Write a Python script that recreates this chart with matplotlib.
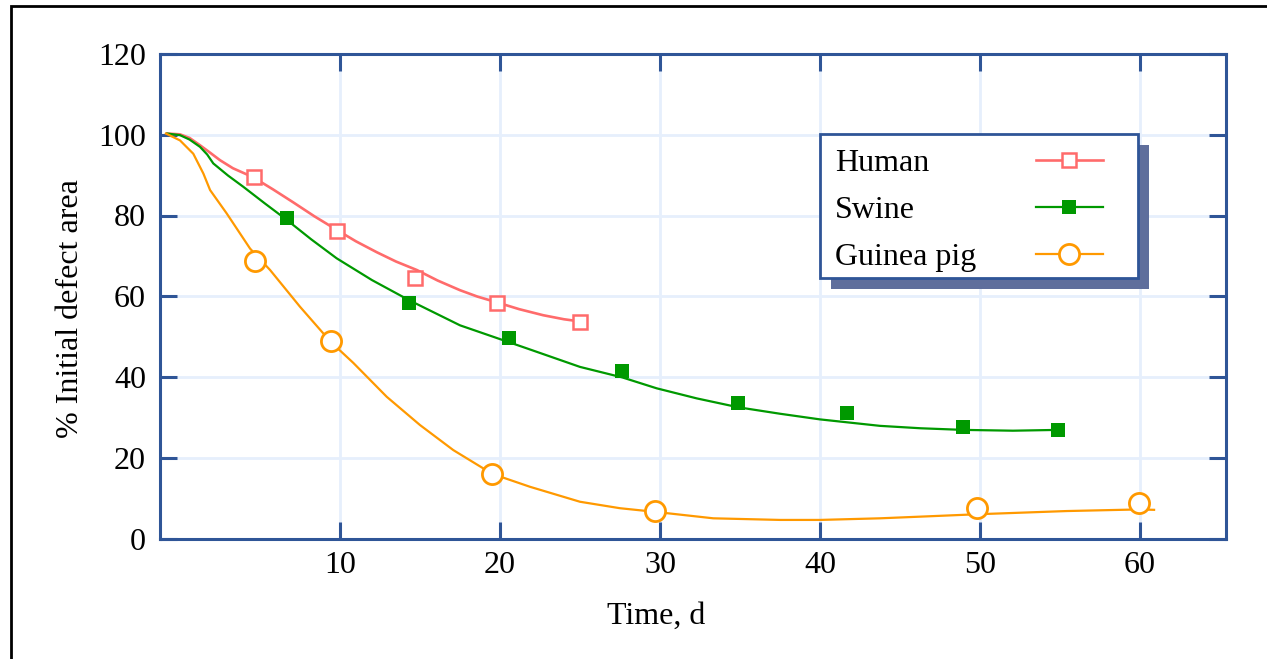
import matplotlib

matplotlib.use("Agg")
import matplotlib.pyplot as plt
from matplotlib.patches import Rectangle
from matplotlib.transforms import IdentityTransform

plt.rcParams["font.family"] = ["Liberation Serif", "DejaVu Serif"]

# measured points (days, % of initial defect area)
human_t = [4.64, 9.79, 14.71, 19.81, 25.0]
human_y = [89.6, 76.1, 64.4, 58.4, 53.7]
swine_t = [6.71, 14.33, 20.58, 27.64, 34.89, 41.71, 48.96, 54.89]
swine_y = [79.5, 58.4, 49.6, 41.4, 33.5, 31.0, 27.5, 26.8]
gpig_t = [4.69, 9.42, 19.5, 29.69, 49.79, 59.96]
gpig_y = [68.8, 49.0, 16.0, 6.9, 7.6, 8.9]

# fitted curves
human_fit_t = [-0.8, 0.0, 0.6, 1.25, 1.9, 2.5, 3.31, 4.56, 5.8, 7.06, 8.4, 9.81, 11.0, 12.3,
               13.5, 14.8, 16.1, 17.5, 18.6, 19.8, 21.2, 22.7, 24.0, 25.3]
human_fit_y = [100.3, 100.1, 99.2, 97.4, 95.5, 93.7, 91.7, 89.5, 86.5, 83.3, 79.8, 76.4, 73.6, 70.9,
               68.6, 66.5, 63.9, 61.5, 59.9, 58.5, 56.8, 55.3, 54.3, 53.6]
swine_fit_t = [-0.8, 0.0, 0.6, 1.25, 1.7, 2.08, 3.0, 3.96, 5.3, 6.71, 8.2, 9.79, 12.0, 14.33,
               17.5, 21.67, 25.0, 27.64, 29.79, 32.3, 34.89, 37.5, 40.0, 43.75, 46.3,
               48.96, 52.06, 54.89]
swine_fit_y = [100.3, 99.9, 98.8, 97.0, 95.1, 92.9, 89.9, 87.1, 83.0, 78.8, 74.1, 69.4, 64.0, 59.0,
               52.8, 47.1, 42.5, 39.9, 37.2, 34.7, 32.5, 30.9, 29.5, 27.9, 27.3,
               26.9, 26.7, 26.9]
gpig_fit_t = [-0.88, 0.0, 0.83, 1.46, 1.88, 2.92, 4.38, 5.63, 7.5, 9.42, 10.83, 12.92, 15.0,
              17.08, 19.52, 21.88, 25.0, 27.5, 29.69, 33.33, 37.5, 40.0, 43.75, 46.8, 49.79,
              52.6, 55.42, 59.96, 60.88]
gpig_fit_y = [100.3, 98.6, 95.3, 90.4, 86.3, 80.5, 71.8, 66.5, 57.4, 48.7, 43.5, 35.1, 28.1,
              21.9, 16.0, 12.8, 9.1, 7.5, 6.6, 5.0, 4.6, 4.6, 5.0, 5.5, 6.0,
              6.4, 6.8, 7.2, 7.1]

labels = ["Human", "Swine", "Guinea pig"]
x_ticks = [10, 20, 30, 40, 50, 60]
y_ticks = [0, 20, 40, 60, 80, 100, 120]

c_human = "#ff6b6b"
c_swine = "#009900"
c_gpig = "#ff9900"
c_axis = "#2f5597"
c_grid = "#e6effc"
fs = 23

fig = plt.figure(figsize=(12.67, 6.59), dpi=100)
ax = fig.add_axes([160 / 1267, 1 - 538.5 / 659, 1066 / 1267, 484.5 / 659])

# outer frame of the figure (runs past right and bottom edges)
fig.patches.append(Rectangle((10.5 / 1267, -0.2), 1.5, 1.2 - 5.5 / 659,
                             transform=fig.transFigure, fill=False,
                             edgecolor="black", linewidth=2))

human_style = dict(color=c_human, lw=1.9, marker="s", ms=10, mew=1.8, mfc="white", mec=c_human)
swine_style = dict(color=c_swine, lw=1.6, marker="s", ms=10.5, mew=0, mfc=c_swine)
gpig_style = dict(color=c_gpig, lw=1.6, marker="o", ms=14.5, mew=2, mfc="white", mec=c_gpig)

ax.plot(human_fit_t, human_fit_y, color=c_human, lw=1.9, zorder=3)
ax.plot(swine_fit_t, swine_fit_y, color=c_swine, lw=1.6, zorder=3)
ax.plot(gpig_fit_t, gpig_fit_y, color=c_gpig, lw=1.6, zorder=3)

ax.plot(human_t, human_y, ls="none", zorder=4,
        **{k: v for k, v in human_style.items() if k not in ("color", "lw")})
ax.plot(swine_t, swine_y, ls="none", zorder=4,
        **{k: v for k, v in swine_style.items() if k not in ("color", "lw")})
ax.plot(gpig_t, gpig_y, ls="none", zorder=4,
        **{k: v for k, v in gpig_style.items() if k not in ("color", "lw")})

h1, = ax.plot([], [], **human_style)
h2, = ax.plot([], [], **swine_style)
h3, = ax.plot([], [], **gpig_style)

ax.set_xlim(-1.25, 65.375)
ax.set_ylim(0, 120)
ax.set_xticks(x_ticks)
ax.set_yticks(y_ticks)

ax.grid(True, color=c_grid, lw=2, zorder=0)
ax.set_axisbelow(True)

for spine in ax.spines.values():
    spine.set_color(c_axis)
    spine.set_linewidth(2.2)

ax.tick_params(direction="in", length=12, width=2.2, color=c_axis,
               top=True, right=True, labelsize=fs, labelcolor="black")
ax.tick_params(axis="x", pad=9)
ax.tick_params(axis="y", pad=10)

ax.set_xlabel("Time, d", fontsize=fs)
ax.xaxis.set_label_coords(0.465, -0.13)
ax.set_ylabel("% Initial defect area", fontsize=fs)
ax.yaxis.set_label_coords(-0.07, 0.474)

# legend box with a solid drop shadow
ax.add_patch(Rectangle((11 / 1066 + 0.619, 0.5377 - 11 / 484.5), 0.2986, 0.2973,
                       transform=ax.transAxes, facecolor="#5f6e9c", edgecolor="none",
                       zorder=5.4, clip_on=False))
ax.add_patch(Rectangle((0.619, 0.5377), 0.2986, 0.2973,
                       transform=ax.transAxes, facecolor="white", edgecolor=c_axis,
                       lw=2, zorder=5.5, clip_on=False))

leg = ax.legend([h1, h2, h3], labels,
                loc="upper right", bbox_to_anchor=((1103 - 160) / 1066, (538.5 - 149) / 484.5),
                borderaxespad=0, borderpad=0, frameon=False, markerfirst=False,
                fontsize=fs, handlelength=2.1, handletextpad=0.5, labelspacing=0.55)
leg.set_zorder(6)

# labels left-aligned inside the box, on the same rows as the handles
fig.canvas.draw()
for t in leg.get_texts():
    bb = t.get_window_extent()
    t.set_visible(False)
    fig.text(835, bb.y0, t.get_text(), fontsize=fs, ha="left", va="bottom",
             transform=IdentityTransform(), zorder=7)

fig.savefig("out.png", dpi=100)
